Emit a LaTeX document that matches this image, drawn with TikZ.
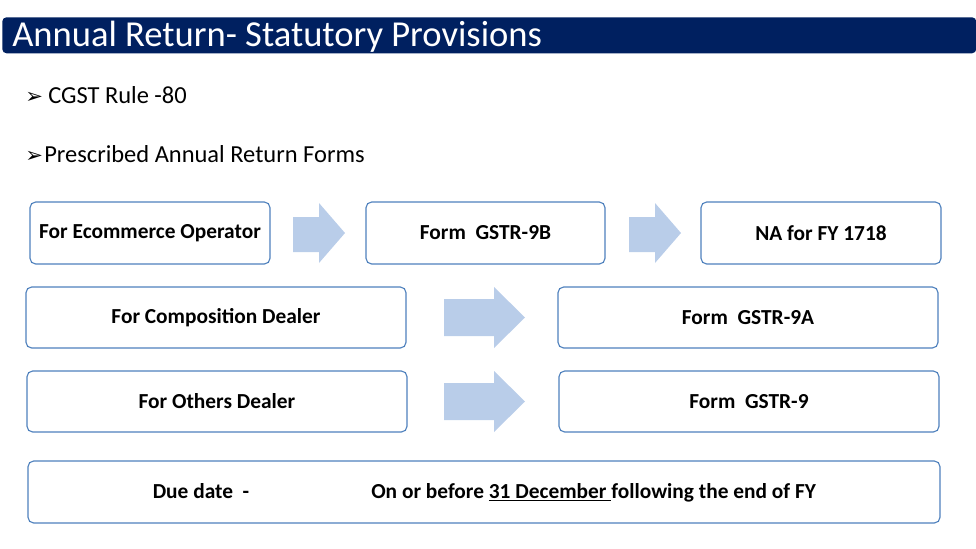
\documentclass[tikz,border=0pt]{standalone}
\usepackage{fontspec}
\setmainfont{Carlito}
\newfontfamily\symfont{DejaVu Sans}
\definecolor{navy}{HTML}{002060}
\definecolor{boxline}{HTML}{4F81BD}
\definecolor{arrowfill}{HTML}{B9CDE9}
\tikzset{
  formbox/.style={draw=boxline,line width=0.8pt,rounded corners=4pt,fill=white,
    font=\fontsize{15.2}{18}\selectfont\bfseries},
  blockarrow/.style={fill=arrowfill},
}
\begin{document}
\begin{tikzpicture}[x=0.025cm,y=-0.025cm]
  \useasboundingbox (0,0) rectangle (976,548);
  % title bar
  \node[fill=navy,rounded corners=3pt,minimum width={974*0.025cm},minimum height={36*0.025cm},anchor=north west,inner sep=0pt] (bar) at (2,17) {};
  \node[text=white,anchor=base west,font=\fontsize{26}{30}\selectfont,inner sep=0pt] (title) at (12,46) {Annual Return- Statutory Provisions};
  % bullets
  \node[anchor=base west,inner sep=0pt,font=\fontsize{15}{18}\symfont] (bull1) at (25,103) {➢};
  \node[anchor=base west,inner sep=0pt,font=\fontsize{17.4}{20}\selectfont] (rule) at (48,103) {CGST Rule -80};
  \node[anchor=base west,inner sep=0pt,font=\fontsize{15}{18}\symfont] (bull2) at (25,162) {➢};
  \node[anchor=base west,inner sep=0pt,font=\fontsize{17.4}{20}\selectfont] (forms) at (44,162) {Prescribed Annual Return Forms};
  % row 1
  \node[formbox,minimum width={240*0.025cm},minimum height={62*0.025cm}] (ecom) at (150,233) {For Ecommerce Operator};
  \node[formbox,minimum width={239*0.025cm},minimum height={62*0.025cm}] (gstr9b) at (485.5,233) {Form\ \ GSTR-9B};
  \node[formbox,minimum width={240*0.025cm},minimum height={62*0.025cm}] (na) at (821,233) {NA for FY 1718};
  \fill[blockarrow] (293,217) -- (319,217) -- (319,203) -- (345,233) -- (319,263) -- (319,252) -- (293,252) -- cycle;
  \fill[blockarrow] (629,217) -- (655,217) -- (655,203) -- (681,233) -- (655,263) -- (655,252) -- (629,252) -- cycle;
  % row 2
  \node[formbox,minimum width={380*0.025cm},minimum height={61*0.025cm}] (comp) at (216,317.5) {For Composition Dealer};
  \node[formbox,minimum width={380*0.025cm},minimum height={61*0.025cm}] (gstr9a) at (748,317.5) {Form\ \ GSTR-9A};
  \fill[blockarrow] (444,299) -- (494,299) -- (494,287) -- (525,317.5) -- (494,348) -- (494,336) -- (444,336) -- cycle;
  % row 3
  \node[formbox,minimum width={380*0.025cm},minimum height={61*0.025cm}] (others) at (217,401.5) {For Others Dealer};
  \node[formbox,minimum width={380*0.025cm},minimum height={61*0.025cm}] (gstr9) at (749,401.5) {Form\ \ GSTR-9};
  \fill[blockarrow] (444,383) -- (494,383) -- (494,371) -- (525,401.5) -- (494,432) -- (494,420) -- (444,420) -- cycle;
  % due date
  \node[formbox,minimum width={912*0.025cm},minimum height={62*0.025cm}] (due) at (484,492) {};
  \node[font=\fontsize{15.2}{18}\selectfont\bfseries,inner sep=0pt,anchor=base] (duelbl) at (201,498) {Due date\ \ -};
  \node[font=\fontsize{15.2}{18}\selectfont\bfseries,inner sep=0pt,anchor=base west] (duetxt) at (371,498) {On or before \underline{31 December\ }following the end of FY};
\end{tikzpicture}
\end{document}
